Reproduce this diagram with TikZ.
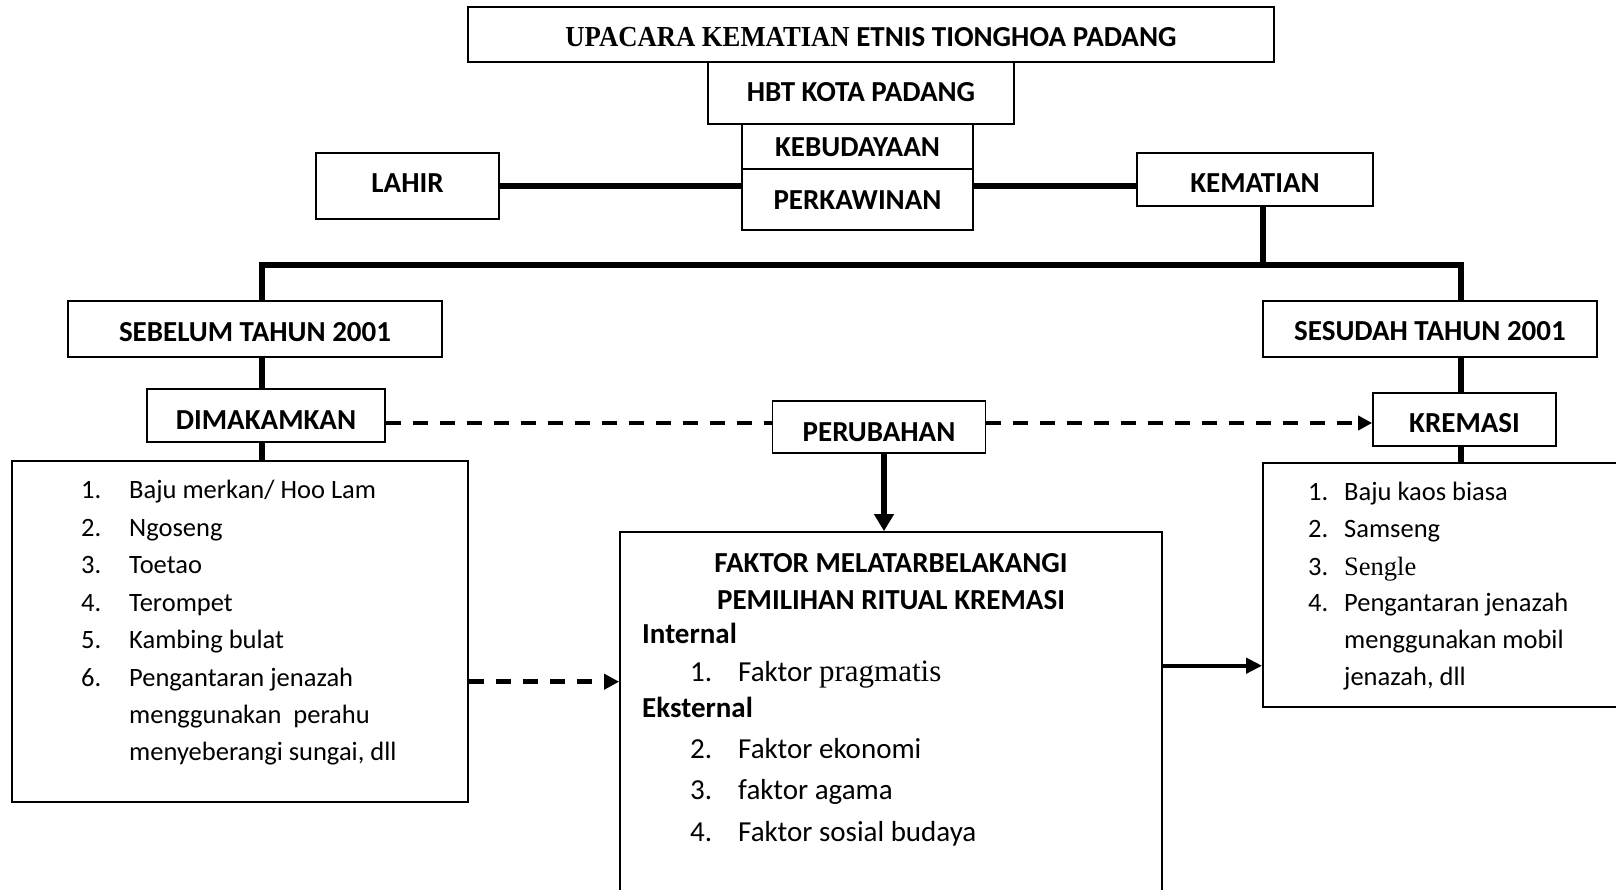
\documentclass[tikz,border=0pt]{standalone}
\usepackage{fontspec}
\usepackage{graphicx}
\setmainfont{Carlito}
\newfontfamily\serifteks{Liberation Serif}
\usetikzlibrary{arrows.meta}

\tikzset{
    kotak/.style={draw, line width=1.7pt, inner sep=0pt, text height=26pt, text depth=0pt,
        font=\fontsize{29pt}{34pt}\selectfont\bfseries},
    garis/.style={line width=5.8pt},
    putus/.style={line width=4.5pt, dash pattern=on 15pt off 12pt},
    isi/.style={anchor=base west, inner sep=0pt, font=\fontsize{26.5pt}{32pt}\selectfont},
    isibesar/.style={anchor=base west, inner sep=0pt, font=\fontsize{29pt}{34pt}\selectfont},
}

\begin{document}
\begin{tikzpicture}[x=1pt, y=-1pt]
            \useasboundingbox (0,0) rectangle (1616,889);

            % Boxes
            \node[kotak, minimum width=806pt, minimum height=55pt, text height=23pt] (judul) at (871,34.5)
                {{\serifteks\scalebox{0.92}[1]{UPACARA KEMATIAN}} ETNIS TIONGHOA PADANG};
            \node[kotak, minimum width=306pt, minimum height=62pt, text height=16pt] (hbt) at (861,93) {HBT KOTA PADANG};
            \node[kotak, minimum width=231pt, minimum height=45pt, text height=20pt] (budaya) at (857.5,146.5) {KEBUDAYAAN};
            \node[kotak, minimum width=231pt, minimum height=61pt, text height=19pt] (kawin) at (857.5,199.5) {PERKAWINAN};
            \node[kotak, minimum width=183pt, minimum height=66pt, text height=12pt] (lahir) at (407.5,186) {LAHIR};
            \node[kotak, minimum width=236pt, minimum height=53pt] (mati) at (1255,179.5) {KEMATIAN};
            \node[kotak, minimum width=374pt, minimum height=56pt, text height=24pt] (sebelum) at (255,329) {SEBELUM TAHUN 2001};
            \node[kotak, minimum width=334pt, minimum height=56pt, text height=22pt] (sesudah) at (1430,329) {SESUDAH TAHUN 2001};
            \node[kotak, minimum width=238pt, minimum height=53pt, text height=28pt] (makam) at (266,415.5) {DIMAKAMKAN};
            \node[kotak, minimum width=213pt, minimum height=52pt, text height=28pt] (ubah) at (879,427) {PERUBAHAN};
            \node[kotak, minimum width=183pt, minimum height=53pt] (kremasi) at (1464.5,419.5) {KREMASI};
            \node[kotak, minimum width=456pt, minimum height=341pt] (listkiri) at (240,631.5) {};
            \node[kotak, minimum width=377pt, minimum height=244pt] (listkanan) at (1451.5,585) {};
            \node[kotak, minimum width=542pt, minimum height=378pt] (faktor) at (891,721) {};

            % Labels
            \node[isi] (kirino1) at (81,498) {1.};
            \node[isi] (kiri1) at (129,498) {Baju merkan/ Hoo Lam};
            \node[isi] (kirino2) at (81,536) {2.};
            \node[isi] (kiri2) at (129,536) {Ngoseng};
            \node[isi] (kirino3) at (81,573) {3.};
            \node[isi] (kiri3) at (129,573) {Toetao};
            \node[isi] (kirino4) at (81,611) {4.};
            \node[isi] (kiri4) at (129,611) {Terompet};
            \node[isi] (kirino5) at (81,648) {5.};
            \node[isi] (kiri5) at (129,648) {Kambing bulat};
            \node[isi] (kirino6) at (81,686) {6.};
            \node[isi] (kiri6) at (129,686) {Pengantaran jenazah};
            \node[isi] (kiri7) at (129,723) {menggunakan\ \ perahu};
            \node[isi] (kiri8) at (129,760) {menyeberangi sungai, dll};

            \node[isi] (kananno1) at (1308,500.5) {1.};
            \node[isi] (kanan1) at (1344,500.5) {Baju kaos biasa};
            \node[isi] (kananno2) at (1308,537.5) {2.};
            \node[isi] (kanan2) at (1344,537.5) {Samseng};
            \node[isi] (kananno3) at (1308,575.5) {3.};
            \node[isi] (kanan3) at (1344,575.5) {\serifteks Sengle};
            \node[isi] (kananno4) at (1308,611.5) {4.};
            \node[isi] (kanan4) at (1344,611.5) {Pengantaran jenazah};
            \node[isi] (kanan5) at (1344,648.5) {menggunakan mobil};
            \node[isi] (kanan6) at (1344,685.5) {jenazah, dll};

            \node[isibesar, anchor=base, font=\fontsize{29pt}{34pt}\selectfont\bfseries] (judulfaktor1) at (891,572) {FAKTOR MELATARBELAKANGI};
            \node[isibesar, anchor=base, font=\fontsize{29pt}{34pt}\selectfont\bfseries] (judulfaktor2) at (891,609) {PEMILIHAN RITUAL KREMASI};
            \node[isibesar, font=\fontsize{29pt}{34pt}\selectfont\bfseries] (internal) at (642,643) {Internal};
            \node[isibesar] (faktorno1) at (690,681) {1.};
            \node[isibesar] (faktor1) at (738,681) {Faktor {\serifteks\fontsize{31pt}{34pt}\selectfont pragmatis}};
            \node[isibesar, font=\fontsize{29pt}{34pt}\selectfont\bfseries] (eksternal) at (642,717.5) {Eksternal};
            \node[isibesar] (faktorno2) at (690,758.5) {2.};
            \node[isibesar] (faktor2) at (738,758.5) {Faktor ekonomi};
            \node[isibesar] (faktorno3) at (690,799.5) {3.};
            \node[isibesar] (faktor3) at (738,799.5) {faktor agama};
            \node[isibesar] (faktorno4) at (690,841) {4.};
            \node[isibesar] (faktor4) at (738,841) {Faktor sosial budaya};

            % Lines
            \coordinate (bagikiri) at (262,265);
            \coordinate (bagitengah) at (1263,265);
            \coordinate (bagikanan) at (1461,265);
            \draw[garis] (lahir.east) -- (lahir.east -| kawin.west);
            \draw[garis] (lahir.east -| kawin.east) -- (lahir.east -| mati.west);
            \draw[garis] (bagitengah |- mati.south) -- (bagitengah);
            \draw[garis] (bagikiri |- sebelum.north) -- (bagikiri) -- (bagikanan) -- (bagikanan |- sesudah.north);
            \draw[garis] (bagikiri |- sebelum.south) -- (bagikiri |- makam.north);
            \draw[garis] (bagikiri |- makam.south) -- (bagikiri |- listkiri.north);
            \draw[garis] (bagikanan |- sesudah.south) -- (bagikanan |- kremasi.north);
            \draw[garis] (bagikanan |- kremasi.south) -- (bagikanan |- listkanan.north);

            % Arrows
            \coordinate (jalur) at (0,423);
            \coordinate (jalurbawah) at (0,681.7);
            \coordinate (jalurkanan) at (0,665.7);
            \coordinate (panah) at (884,0);
            \draw[putus] (makam.east |- jalur) -- (ubah.west |- jalur);
            \draw[putus, -{Triangle[length=14pt,width=14pt]}] (ubah.east |- jalur) -- (kremasi.west |- jalur);
            \draw[garis, -{Triangle[length=17pt,width=19pt]}] (panah |- ubah.south) -- (panah |- faktor.north);
            \draw[putus, -{Triangle[length=15pt,width=15pt]}] (listkiri.east |- jalurbawah) -- (faktor.west |- jalurbawah);
            \draw[line width=4.3pt, -{Triangle[length=16pt,width=15pt]}] (faktor.east |- jalurkanan) -- (listkanan.west |- jalurkanan);
\end{tikzpicture}
\end{document}
